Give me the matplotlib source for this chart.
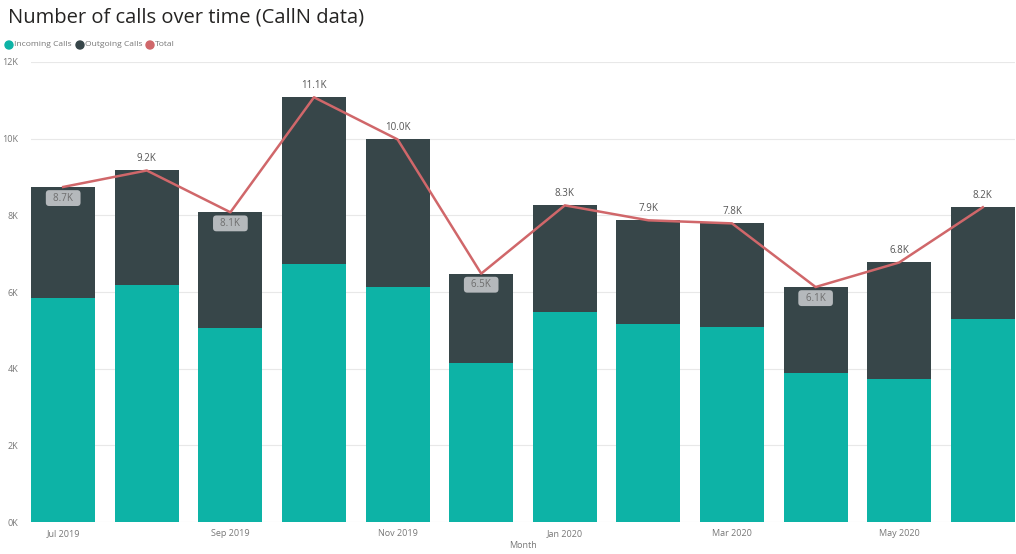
import matplotlib
matplotlib.use("Agg")
import matplotlib.pyplot as plt
import numpy as np

months = ["Jul 2019", "Aug 2019", "Sep 2019", "Oct 2019", "Nov 2019", "Dec 2019",
          "Jan 2020", "Feb 2020", "Mar 2020", "Apr 2020", "May 2020", "Jun 2020"]
incoming = [5850, 6190, 5070, 6740, 6120, 4160, 5480, 5175, 5080, 3900, 3740, 5290]
outgoing = [2890, 2980, 3010, 4340, 3860, 2320, 2780, 2695, 2710, 2230, 3030, 2920]
total = [i + o for i, o in zip(incoming, outgoing)]
boxed = [True, False, True, False, False, True, False, False, False, True, False, False]
yticks = [0, 2000, 4000, 6000, 8000, 10000, 12000]
ytick_labels = ["0K", "2K", "4K", "6K", "8K", "10K", "12K"]

C_IN = "#0DB3A6"
C_OUT = "#374649"
C_TOT = "#D0676A"
GRAY = "#777777"

plt.rcParams['font.family'] = ['Open Sans', 'DejaVu Sans']

fig = plt.figure(figsize=(10.16, 5.54), dpi=100)
ax = fig.add_axes([31/1016, 32/554, 984/1016, 460/554])
x = np.arange(len(months))
w = 0.765
ax.bar(x, incoming, w, color=C_IN, zorder=2)
ax.bar(x, outgoing, w, bottom=incoming, color=C_OUT, zorder=2)
ax.plot(x, total, color=C_TOT, lw=1.8, zorder=3)

for xi, t, b in zip(x, total, boxed):
    lab = f"{t/1000:.1f}K"
    if b:
        ax.annotate("  " + lab + "  ", (xi, t), xytext=(0, -8), textcoords="offset points",
                    ha="center", va="center", fontsize=7, color="#6E6E6E", zorder=4,
                    bbox=dict(boxstyle="round,pad=0.25,rounding_size=0.35",
                              fc="#B5B9BC", ec="none"))
    else:
        ax.annotate(lab, (xi, t), xytext=(0, 8.5), textcoords="offset points",
                    ha="center", va="center", fontsize=7, color="#555555", zorder=4)

ax.set_xlim(-0.385, 11.385)
ax.set_ylim(0, 12000)
ax.set_yticks(yticks)
ax.set_yticklabels(ytick_labels)
ax.set_xticks(x[::2])
ax.set_xticklabels(months[::2])
ax.tick_params(axis="both", length=0, labelsize=6.5, colors=GRAY)
ax.tick_params(axis="y", pad=9)
ax.tick_params(axis="x", pad=5)
ax.grid(axis="y", color="#E8E8E8", lw=0.8, zorder=0)
for s in ax.spines.values():
    s.set_visible(False)
ax.set_xlabel("Month", fontsize=6.5, color=GRAY, labelpad=2)

fig.text(8/1016, 1 - 18/554, "Number of calls over time (CallN data)", fontsize=14.5,
         color="#252423", va="center", ha="left")

# legend
ly = 1 - 45/554
items = [("Incoming Calls", C_IN, 9), ("Outgoing Calls", C_OUT, 80), ("Total", C_TOT, 150)]
for name, col, px in items:
    fig.patches.append(matplotlib.patches.Ellipse((px/1016, ly), 8/1016, 8/554,
                       transform=fig.transFigure, color=col))
    fig.text((px + 5)/1016, ly, name, fontsize=6.1, color=GRAY, va="center", ha="left")

fig.savefig("out.png", dpi=100, facecolor="white")
